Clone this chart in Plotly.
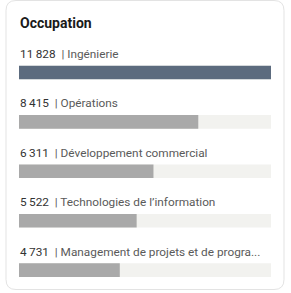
import plotly.graph_objects as go

title = "Occupation"
categories = ["Ingénierie", "Opérations", "Développement commercial",
              "Technologies de l’information", "Management de projets et de progra..."]
values = [11828, 8415, 6311, 5522, 4731]
value_labels = ["11\u2009828", "8\u2009415", "6\u2009311", "5\u2009522", "4\u2009731"]
bar_colors = ["#5c6b7e", "#a9a9a9", "#a9a9a9", "#a9a9a9", "#a9a9a9"]
track_color = "#f2f2ef"

W, H = 291, 293
L, R, T, B = 19, 20, 40, 10
pw, ph = W - L - R, H - T - B
xmax = max(values)
FONT = "Roboto, sans-serif"


def px2x(p):
    return (p - L) / pw


def px2y(p):
    return (H - B - p) / ph


fig = go.Figure()
idx = list(range(len(categories)))
fig.add_trace(go.Bar(y=idx, x=[xmax] * len(values), orientation="h",
                     marker=dict(color=track_color, line=dict(width=0)),
                     width=0.275, hoverinfo="skip", showlegend=False))
fig.add_trace(go.Bar(y=idx, x=values, orientation="h",
                     marker=dict(color=bar_colors, line=dict(width=0)),
                     width=0.275, showlegend=False))

annotations = []
for i, (v, c) in enumerate(zip(value_labels, categories)):
    annotations.append(dict(
        x=0, y=i, xref="x", yref="y", xanchor="left", yanchor="middle",
        yshift=18.5, xshift=-1.5, showarrow=False,
        text=f"<span style='color:#333333'>{v}</span>\u00a0\u00a0<span style='color:#5a5a5a'>| {c}</span>",
        font=dict(family=FONT, size=11.8)))
annotations.append(dict(
    x=0, y=px2y(23), xref="paper", yref="paper", xanchor="left", yanchor="middle",
    xshift=-1.5, showarrow=False, text=f"<b>{title}</b>",
    font=dict(family=FONT, size=14, color="#1a1a1a")))

x0, x1, y0, y1, r = 6, 284, 0.5, 289.5, 10
path = (f"M {px2x(x0 + r)} {px2y(y0)} L {px2x(x1 - r)} {px2y(y0)} "
        f"Q {px2x(x1)} {px2y(y0)} {px2x(x1)} {px2y(y0 + r)} "
        f"L {px2x(x1)} {px2y(y1 - r)} Q {px2x(x1)} {px2y(y1)} {px2x(x1 - r)} {px2y(y1)} "
        f"L {px2x(x0 + r)} {px2y(y1)} Q {px2x(x0)} {px2y(y1)} {px2x(x0)} {px2y(y1 - r)} "
        f"L {px2x(x0)} {px2y(y0 + r)} Q {px2x(x0)} {px2y(y0)} {px2x(x0 + r)} {px2y(y0)} Z")

span = ph / 49.4
top = -(72.5 - T) / 49.4

fig.update_layout(
    width=W, height=H,
    margin=dict(l=L, r=R, t=T, b=B),
    paper_bgcolor="white", plot_bgcolor="white",
    barmode="overlay",
    xaxis=dict(range=[0, xmax], visible=False, fixedrange=True),
    yaxis=dict(range=[top + span, top], visible=False, fixedrange=True),
    annotations=annotations,
    shapes=[dict(type="path", xref="paper", yref="paper", path=path,
                 line=dict(color="#e3e3e3", width=1), layer="below")],
    font=dict(family=FONT),
)

fig.write_html("out.html")
